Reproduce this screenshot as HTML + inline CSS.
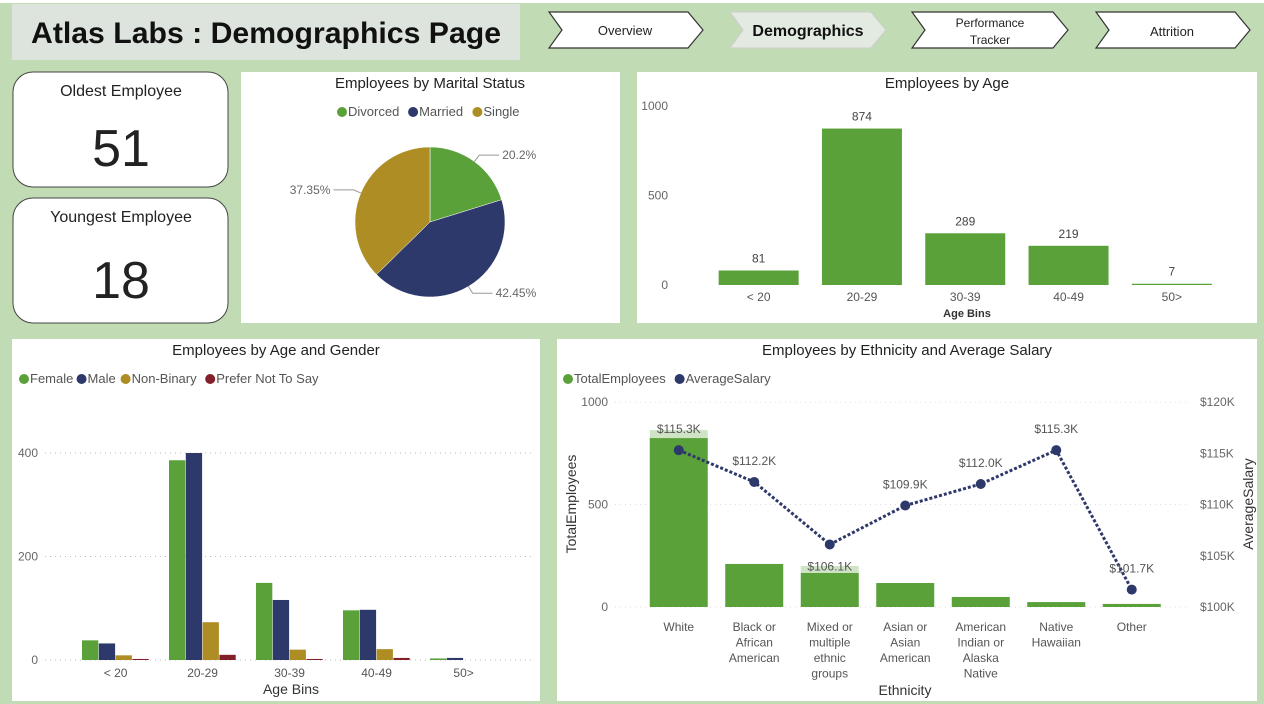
<!DOCTYPE html>
<html><head><meta charset="utf-8"><style>
body{margin:0;width:1264px;height:704px;overflow:hidden;background:#c1dcb4;font-family:"Liberation Sans",sans-serif}
svg{display:block}
</style></head><body>
<svg id="s" width="1264" height="704" xmlns="http://www.w3.org/2000/svg" font-family="Liberation Sans, sans-serif">
<rect x="0" y="0" width="1264" height="704" fill="#c1dcb4"/>
<rect x="0" y="0" width="1264" height="3" fill="#ffffff"/>
<g>
<rect x="12" y="4" width="508" height="56" fill="#dde4dd"/>
<text x="266" y="43" text-anchor="middle" font-size="30" font-weight="bold" fill="#111" textLength="470" lengthAdjust="spacingAndGlyphs">Atlas Labs : Demographics Page</text>
</g>
<g>
<path d="M549,12 L688,12 L703,30 L688,48 L549,48 L562,30 Z" fill="#fff" stroke="#333" stroke-width="1.2"/>
<text x="625" y="35" text-anchor="middle" font-size="13" fill="#222">Overview</text></g>
<g>
<path d="M730,12 L871,12 L886,30 L871,48 L730,48 L743,30 Z" fill="#e3eae1" stroke="#ccc" stroke-width="1"/>
<text x="808" y="36" text-anchor="middle" font-size="16" font-weight="bold" fill="#111">Demographics</text></g>
<g>
<path d="M912,12 L1053,12 L1068,30 L1053,48 L912,48 L925,30 Z" fill="#fff" stroke="#333" stroke-width="1.2"/>
<text x="990" y="27" text-anchor="middle" font-size="12" fill="#222">Performance</text>
<text x="990" y="44" text-anchor="middle" font-size="12" fill="#222">Tracker</text></g>
<g>
<path d="M1096,12 L1235,12 L1250,30 L1235,48 L1096,48 L1109,30 Z" fill="#fff" stroke="#333" stroke-width="1.2"/>
<text x="1172" y="36" text-anchor="middle" font-size="13" fill="#222">Attrition</text></g>

<g>
<rect x="13" y="72" width="215" height="115" rx="20" fill="#fff" stroke="#444"/>
<text x="121" y="96" text-anchor="middle" font-size="16" fill="#222">Oldest Employee</text>
<text x="121" y="166" text-anchor="middle" font-size="52" fill="#222">51</text></g>
<g>
<rect x="13" y="198" width="215" height="125" rx="20" fill="#fff" stroke="#444"/>
<text x="121" y="222" text-anchor="middle" font-size="16" fill="#222">Youngest Employee</text>
<text x="121" y="298" text-anchor="middle" font-size="52" fill="#222">18</text></g>

<rect x="241" y="72" width="379" height="251" fill="#fff"/>
<text x="430" y="88" text-anchor="middle" font-size="15" fill="#222">Employees by Marital Status</text>
<g id="pie"></g>

<rect x="637" y="72" width="620" height="251" fill="#fff"/>
<text x="947" y="88" text-anchor="middle" font-size="15" fill="#222">Employees by Age</text>
<g id="age"></g>

<rect x="12" y="339" width="528" height="362" fill="#fff"/>
<text x="276" y="355" text-anchor="middle" font-size="15" fill="#222">Employees by Age and Gender</text>
<g id="gender"></g>

<rect x="557" y="339" width="700" height="362" fill="#fff"/>
<text x="907" y="355" text-anchor="middle" font-size="15" fill="#222">Employees by Ethnicity and Average Salary</text>
<g id="eth"></g>
</svg>
<script>
const maritalLabels=["Divorced","Married","Single"];
const maritalValues=[20.2,42.45,37.35];
const ageCats=["< 20","20-29","30-39","40-49","50>"];
const ageValues=[81,874,289,219,7];
const ageTicks=[0,500,1000];
const genderNames=["Female","Male","Non-Binary","Prefer Not To Say"];
const genderFemale=[38,386,149,96,3];
const genderMale=[32,400,116,97,4];
const genderNB=[9,73,20,21,0];
const genderPNS=[2,10,2,4,0];
const genderTicks=[0,200,400];
const ethCats=[["White"],["Black or","African","American"],["Mixed or","multiple","ethnic","groups"],["Asian or","Asian","American"],["American","Indian or","Alaska","Native"],["Native","Hawaiian"],["Other"]];
const ethEmployees=[824,210,166,117,49,24,15];
const ethHighlight=[863,0,200,0,0,0,0];
const ethSalary=[115.3,112.2,106.1,109.9,112.0,115.3,101.7];
const ethTicksL=[0,500,1000];
const ethTicksR=[100,105,110,115,120];
const C=["#5aa13a","#2d386b","#ad8d24","#831f28"];
const NS="http://www.w3.org/2000/svg";
function mk(p,t,a,txt){const e=document.createElementNS(NS,t);for(const k in a)e.setAttribute(k,a[k]);if(txt!==undefined)e.textContent=txt;p.appendChild(e);return e;}
function legend(g,x,y,names,cols,fs){let cx=x;names.forEach((n,i)=>{
 const lg=mk(g,'g',{});
 
 
 mk(lg,'circle',{cx:cx+5,cy:y-4,r:5,fill:cols[i]});
 mk(lg,'text',{x:cx+11,y:y,'font-size':fs,fill:'#555'},n);
 cx+=11+n.length*fs*0.52+6;});}
// pie
(function(){const g=document.getElementById('pie');
 legend(g,337,116,maritalLabels,C,13);
 const cx=430,cy=222,r=75;const tot=maritalValues.reduce((a,b)=>a+b,0);let a0=-Math.PI/2;
 maritalValues.forEach((v,i)=>{const a1=a0+v/tot*2*Math.PI;
  const p=mk(g,'path',{d:`M${cx},${cy} L${cx+r*Math.cos(a0)},${cy+r*Math.sin(a0)} A${r},${r} 0 ${a1-a0>Math.PI?1:0} 1 ${cx+r*Math.cos(a1)},${cy+r*Math.sin(a1)} Z`,fill:C[i],stroke:'#fff','stroke-width':0.5});
  
  
  const m=(a0+a1)/2;const lx=cx+(r+8)*Math.cos(m),ly=cy+(r+8)*Math.sin(m);const right=Math.cos(m)>0;
  const tx=lx+(right?20:-20);
  mk(g,'polyline',{points:`${cx+r*Math.cos(m)},${cy+r*Math.sin(m)} ${lx},${ly} ${tx},${ly}`,fill:'none',stroke:'#999'});
  const t=mk(g,'text',{x:tx+(right?3:-3),y:ly+4,'font-size':12,fill:'#666','text-anchor':right?'start':'end'},v+'%');
  
  
  a0=a1;});})();
// age
(function(){const g=document.getElementById('age');
 const y=v=>285-v*0.179;const x0=707,bw=103.3;
 ageTicks.forEach(t=>{mk(g,'text',{x:668,y:y(t)+4,'font-size':12,fill:'#666','text-anchor':'end'},t);});
 ageValues.forEach((v,i)=>{const cx=x0+bw*(i+0.5);
  const b=mk(g,'rect',{x:cx-40,y:y(v),width:80,height:285-y(v),fill:C[0]});
  
  
  mk(g,'text',{x:cx,y:y(v)-8,'font-size':12,fill:'#444','text-anchor':'middle'},v);
  mk(g,'text',{x:cx,y:301,'font-size':12,fill:'#555','text-anchor':'middle'},ageCats[i]);});
 mk(g,'text',{x:967,y:317,'font-size':11,'font-weight':'bold',fill:'#333','text-anchor':'middle'},'Age Bins');})();
// gender
(function(){const g=document.getElementById('gender');
 legend(g,19,383,genderNames,C,13);
 const y=v=>660-v*0.5175;const series=[genderFemale,genderMale,genderNB,genderPNS];
 genderTicks.forEach(t=>{mk(g,'line',{x1:45,x2:535,y1:y(t),y2:y(t),stroke:'#bbb','stroke-dasharray':'1 4'});
  mk(g,'text',{x:38,y:y(t)+4,'font-size':12,fill:'#666','text-anchor':'end'},t);});
 const x0=82,gw=87,bwid=16.8;
 ageCats.forEach((c,i)=>{const gx=x0+gw*i;
  series.forEach((s,k)=>{const v=s[i];const b=mk(g,'rect',{x:gx+k*bwid,y:y(v),width:bwid-0.5,height:660-y(v),fill:C[k]});
   
   });
  mk(g,'text',{x:gx+2*bwid,y:677,'font-size':12,fill:'#555','text-anchor':'middle'},c);});
 mk(g,'text',{x:291,y:694,'font-size':14,fill:'#333','text-anchor':'middle'},'Age Bins');})();
// ethnicity
(function(){const g=document.getElementById('eth');
 legend(g,563,383,["TotalEmployees","AverageSalary"],[C[0],C[1]],13);
 const y=v=>607-v*0.205;const yr=v=>607-(v-100)*10.25;
 ethTicksL.forEach(t=>{mk(g,'line',{x1:615,x2:1190,y1:y(t),y2:y(t),stroke:'#ddd','stroke-dasharray':'1 4'});
  mk(g,'text',{x:608,y:y(t)+4,'font-size':12,fill:'#666','text-anchor':'end'},t);});
 ethTicksR.forEach(t=>{mk(g,'text',{x:1200,y:yr(t)+4,'font-size':12,fill:'#666'},'$'+t+'K');});
 const x0=641,bw=75.5;const pts=[];
 ethEmployees.forEach((v,i)=>{const cx=x0+bw*(i+0.5);
  if(ethHighlight[i]>v) mk(g,'rect',{x:cx-29,y:y(ethHighlight[i]),width:58,height:y(v)-y(ethHighlight[i]),fill:'#cfe3c5'});
  const b=mk(g,'rect',{x:cx-29,y:y(v),width:58,height:607-y(v),fill:C[0]});
  
  
  ethCats[i].forEach((l,j)=>mk(g,'text',{x:cx,y:631+j*15.5,'font-size':12,fill:'#555','text-anchor':'middle'},l));
  pts.push([cx,yr(ethSalary[i])]);});
 mk(g,'polyline',{points:pts.map(p=>p.join(',')).join(' '),fill:'none',stroke:C[1],'stroke-width':3,'stroke-dasharray':'3 2'});
 pts.forEach((p,i)=>{const d=mk(g,'circle',{cx:p[0],cy:p[1],r:5,fill:C[1]});
  
  
  const isMin=i>0&&i<pts.length-1&&p[1]>pts[i-1][1]&&p[1]>pts[i+1][1];
  mk(g,'text',{x:p[0],y:isMin?p[1]+26:p[1]-17,'font-size':12,fill:'#555','text-anchor':'middle'},'$'+ethSalary[i].toFixed(1)+'K');});
 mk(g,'text',{x:0,y:0,'font-size':14,fill:'#333','text-anchor':'middle',transform:'translate(576,504) rotate(-90)'},'TotalEmployees');
 mk(g,'text',{x:0,y:0,'font-size':14,fill:'#333','text-anchor':'middle',transform:'translate(1253,504) rotate(-90)'},'AverageSalary');
 mk(g,'text',{x:905,y:695,'font-size':14,fill:'#333','text-anchor':'middle'},'Ethnicity');})();
</script>
</body></html>
